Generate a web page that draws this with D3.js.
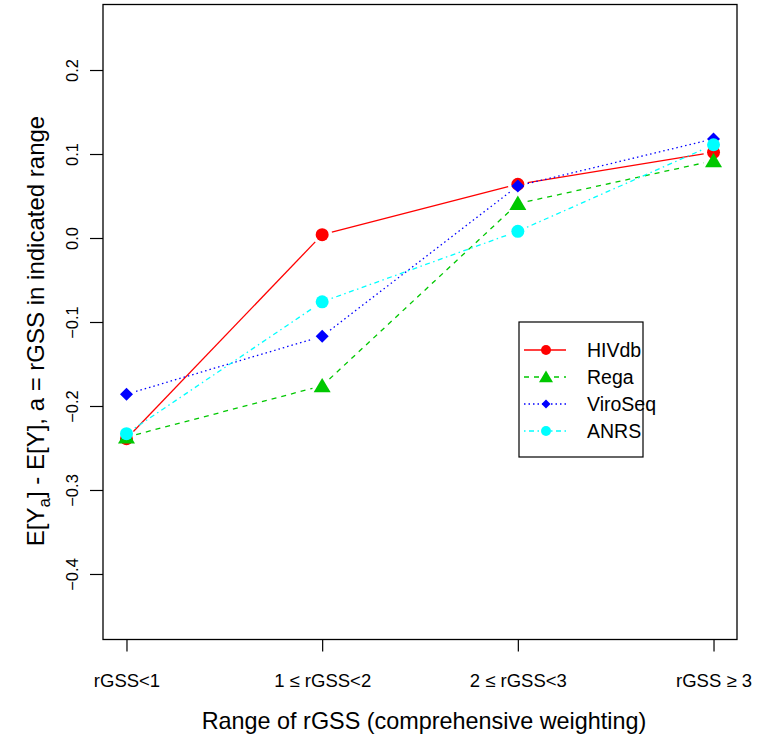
<!DOCTYPE html>
<html><head><meta charset="utf-8">
<script src="https://cdn.jsdelivr.net/npm/d3@7"></script>
<style>body{margin:0;background:#fff}svg{display:block}text{font-family:"Liberation Sans",Arial,sans-serif;fill:#000}</style>
</head><body>
<script>
const categories = ["rGSS<1", "1 \u2264 rGSS<2", "2 \u2264 rGSS<3", "rGSS \u2265 3"];
const seriesNames = ["HIVdb", "Rega", "ViroSeq", "ANRS"];
const hivdb   = [-0.239, 0.004, 0.064, 0.102];
const rega    = [-0.237, -0.176, 0.041, 0.092];
const viroseq = [-0.186, -0.117, 0.062, 0.118];
const anrs    = [-0.233, -0.076, 0.008, 0.111];
const yTicks  = [-0.4, -0.3, -0.2, -0.1, 0.0, 0.1, 0.2];

const W = 757, H = 740;
const L = 103, R = 737, T = 4.5, B = 639.5;
const svg = d3.select("body").append("svg").attr("width", W).attr("height", H);

const x = d3.scaleLinear().domain([0.88, 4.12]).range([L, R]);
const y = d3.scaleLinear().domain([-0.478, 0.278]).range([B, T]);

const styles = [
  {name: seriesNames[0], vals: hivdb,   color: "#FF0000", dash: null,        shape: "circle",   size: 6.5, lsize: 5},
  {name: seriesNames[1], vals: rega,    color: "#00C800", dash: "5,5",       shape: "triangle", size: 8.5, lsize: 7},
  {name: seriesNames[2], vals: viroseq, color: "#0000FF", dash: "1.5,3",     shape: "diamond",  size: 6.5, lsize: 4.5},
  {name: seriesNames[3], vals: anrs,    color: "#00FFFF", dash: "1.5,3.5,5,3.5", shape: "circle", size: 6.5, lsize: 5}
];

function marker(g, shape, cx, cy, s, color) {
  if (shape === "circle") {
    g.append("circle").attr("cx", cx).attr("cy", cy).attr("r", s).attr("fill", color);
  } else if (shape === "triangle") {
    const h = s * 1.7;
    g.append("path").attr("d", `M${cx},${cy - h*0.55}L${cx + s},${cy + h*0.45}L${cx - s},${cy + h*0.45}Z`).attr("fill", color);
  } else {
    g.append("path").attr("d", `M${cx},${cy - s}L${cx + s},${cy}L${cx},${cy + s}L${cx - s},${cy}Z`).attr("fill", color);
  }
}

// box
svg.append("rect").attr("x", L).attr("y", T).attr("width", R - L).attr("height", B - T)
  .attr("fill", "none").attr("stroke", "#000").attr("stroke-width", 1.3);

// y axis
const yAxis = d3.axisLeft(y).tickValues(yTicks).tickSize(13).tickFormat(d3.format(".1f"));
const yg = svg.append("g").attr("transform", `translate(${L},0)`).call(yAxis);
yg.select(".domain").remove();
yg.selectAll("line").attr("stroke", "#000").attr("stroke-width", 1.2);
yg.selectAll("text").remove();
yg.selectAll(".tick").append("text")
  .attr("transform", "translate(-25,0) rotate(-90)")
  .attr("text-anchor", "middle").attr("font-size", 16.5)
  .text(d => d3.format(".1f")(d));

// x axis
const xAxis = d3.axisBottom(x).tickValues([1,2,3,4]).tickSize(12).tickFormat((d,i) => categories[i]);
const xg = svg.append("g").attr("transform", `translate(0,${B})`).call(xAxis);
xg.select(".domain").remove();
xg.selectAll("line").attr("stroke", "#000").attr("stroke-width", 1.2);
xg.selectAll("text").attr("font-size", 18.5).attr("y", 0).attr("dy", 47.5).attr("fill", "#000");

// axis titles
svg.append("text").attr("x", 424).attr("y", 729).attr("text-anchor", "middle")
  .attr("font-size", 23.4).text("Range of rGSS (comprehensive weighting)");
const yt = svg.append("text").attr("transform", `translate(44,331) rotate(-90)`)
  .attr("text-anchor", "middle").attr("font-size", 24);
yt.append("tspan").text("E[Y");
yt.append("tspan").attr("font-size", 17).attr("dy", 6).text("a");
yt.append("tspan").attr("dy", -6).text("] - E[Y], a = rGSS in indicated range");

// series
const gap = 10;
styles.forEach(s => {
  const g = svg.append("g");
  const pts = s.vals.map((v, i) => [x(i + 1), y(v)]);
  for (let i = 0; i < pts.length - 1; i++) {
    const [x0, y0] = pts[i], [x1, y1] = pts[i + 1];
    const len = Math.hypot(x1 - x0, y1 - y0);
    if (len <= 2 * gap) continue;
    const ux = (x1 - x0) / len, uy = (y1 - y0) / len;
    g.append("line")
      .attr("x1", x0 + ux * gap).attr("y1", y0 + uy * gap)
      .attr("x2", x1 - ux * gap).attr("y2", y1 - uy * gap)
      .attr("stroke", s.color).attr("stroke-width", 1.3)
      .attr("stroke-dasharray", s.dash);
  }
  pts.forEach(p => marker(g, s.shape, p[0], p[1], s.size, s.color));
});

// legend
const lg = svg.append("g");
lg.append("rect").attr("x", 519).attr("y", 322).attr("width", 124).attr("height", 135)
  .attr("fill", "#fff").attr("stroke", "#000").attr("stroke-width", 1.2);
const ly = [350, 377, 404, 431];
styles.forEach((s, i) => {
  lg.append("line").attr("x1", 524).attr("x2", 566).attr("y1", ly[i]).attr("y2", ly[i])
    .attr("stroke", s.color).attr("stroke-width", 1.3).attr("stroke-dasharray", s.dash);
  marker(lg, s.shape, 546, ly[i], s.lsize, s.color);
  lg.append("text").attr("x", 587).attr("y", ly[i] + 7).attr("font-size", 19.5).text(s.name);
});
</script>
</body></html>
